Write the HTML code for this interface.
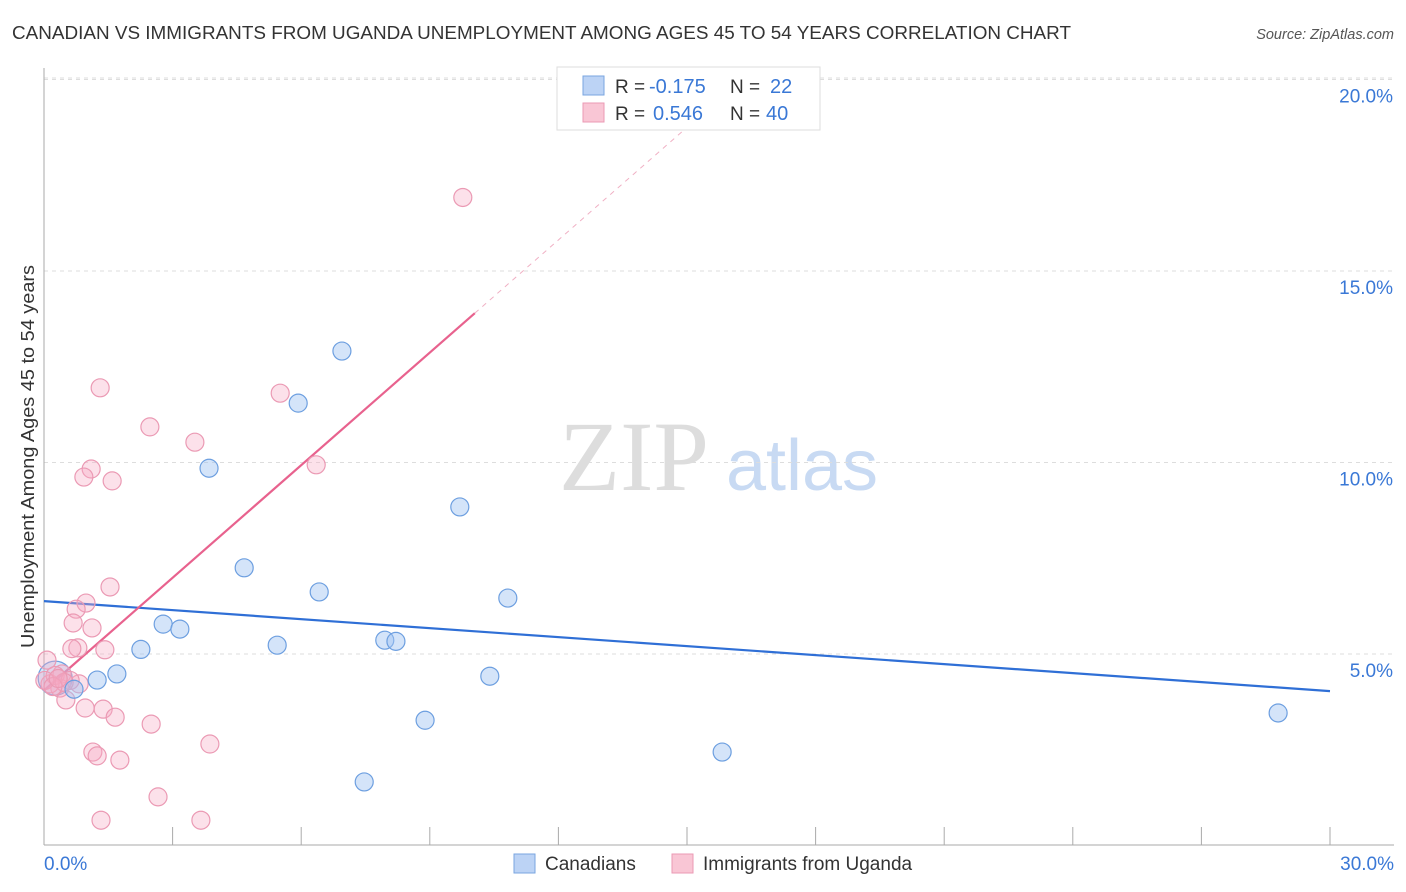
<!DOCTYPE html>
<html><head><meta charset="utf-8"><style>
body{margin:0;background:#fff;font-family:"Liberation Sans",sans-serif;}
svg{display:block}
</style></head><body>
<svg width="1406" height="892" id="c">
<text x="12" y="39" font-size="18" fill="#333" textLength="1059" lengthAdjust="spacingAndGlyphs">CANADIAN VS IMMIGRANTS FROM UGANDA UNEMPLOYMENT AMONG AGES 45 TO 54 YEARS CORRELATION CHART</text>
<text x="1394" y="39" font-size="14.5" fill="#555" font-style="italic" text-anchor="end">Source: ZipAtlas.com</text>
<text transform="translate(34,648) rotate(-90)" font-size="18" fill="#333" textLength="383" lengthAdjust="spacingAndGlyphs">Unemployment Among Ages 45 to 54 years</text>
<g>
<text x="634" y="490" font-size="100" font-family="Liberation Serif,serif" fill="#ddd" text-anchor="middle">ZIP</text>
<text x="802" y="490" font-size="72" fill="#c8daf3" text-anchor="middle">atlas</text>
</g>
<g id="grid"></g><g id="axes"></g><g id="trend"></g><g id="pts"></g>
<g>
<rect x="557" y="67" width="263" height="63" fill="#fff" stroke="#ddd"/>
<rect x="583" y="76" width="21" height="19" fill="#bcd3f5" stroke="#7aa6e0"/>
<rect x="583" y="103" width="21" height="19" fill="#f9c6d5" stroke="#eb9ab4"/>
<text x="615" y="93" font-size="19" fill="#333">R =</text><text x="649" y="93" font-size="20" fill="#3a78d6">-0.175</text>
<text x="730" y="93" font-size="19" fill="#333">N =</text><text x="770" y="93" font-size="20" fill="#3a78d6">22</text>
<text x="615" y="120" font-size="19" fill="#333">R =</text><text x="653" y="120" font-size="20" fill="#3a78d6">0.546</text>
<text x="730" y="120" font-size="19" fill="#333">N =</text><text x="766" y="120" font-size="20" fill="#3a78d6">40</text>
</g>
<g>
<rect x="514" y="854" width="21" height="19" fill="#bcd3f5" stroke="#7aa6e0"/>
<text x="545" y="870" font-size="19" fill="#333">Canadians</text>
<rect x="672" y="854" width="21" height="19" fill="#f9c6d5" stroke="#eb9ab4"/>
<text x="703" y="870" font-size="19" fill="#333">Immigrants from Uganda</text>
</g>
</svg>
<script>
const blueX=[6.95,5.93,3.85,9.70,4.67,6.42,10.82,2.78,3.17,2.26,5.44,7.95,8.21,10.40,1.70,1.24,0.70,8.89,15.82,7.47,28.79,0.26];
const blueY=[12.91,11.55,9.85,8.84,7.25,6.62,6.46,5.78,5.65,5.12,5.23,5.36,5.33,4.42,4.48,4.32,4.08,3.27,2.44,1.66,3.46,4.37];
const blueSize=[1,1,1,1,1,1,1,1,1,1,1,1,1,1,1,1,1,1,1,1,1,2];
const pinkX=[9.77,1.31,5.51,2.47,3.52,6.35,1.10,0.93,1.59,1.54,0.98,0.75,0.68,1.12,0.79,0.65,1.42,0.07,0.42,0.82,0.37,0.14,0.51,0.96,1.38,1.66,2.50,3.87,1.14,1.24,1.77,2.66,1.33,3.66,0.26,0.02,0.61,0.47,0.21,0.33];
const pinkY=[16.92,11.95,11.81,10.93,10.53,9.94,9.83,9.62,9.52,6.75,6.33,6.17,5.81,5.68,5.16,5.14,5.11,4.84,4.48,4.22,4.11,4.22,3.80,3.59,3.56,3.35,3.17,2.65,2.44,2.34,2.23,1.27,0.66,0.66,4.44,4.31,4.31,4.26,4.15,4.36];
const blueTrend=[6.38,-0.0783];
const pinkTrend=[4.05,0.98];
const yTicks=[5,10,15,20];
const yTickLabels=["5.0%","10.0%","15.0%","20.0%"];
const xTicks=[0,3,6,9,12,15,18,21,24,27,30];
const xTickLabels=["0.0%","30.0%"];
const NS="http://www.w3.org/2000/svg";
const X=v=>44+v/30*1286, Y=v=>845.5-v*38.3;
function mk(t,a,p){const e=document.createElementNS(NS,t);for(const k in a)e.setAttribute(k,a[k]);document.getElementById(p).appendChild(e);return e;}
let g;
g=mk('line',{x1:44,x2:1394,y1:78,y2:78,stroke:'#ddd','stroke-dasharray':'4,4'},'grid');


yTicks.forEach((t,i)=>{
 g=mk('line',{x1:44,x2:1394,y1:Y(t),y2:Y(t),stroke:'#ddd','stroke-dasharray':'4,4'},'grid');
 
 
 g=mk('text',{x:1393,y:Y(t)+23,'font-size':19,fill:'#3a78d6','text-anchor':'end'},'axes');g.textContent=yTickLabels[i];
 
 
});
g=mk('line',{x1:44,x2:44,y1:68,y2:845,stroke:'#aaa'},'axes');


g=mk('line',{x1:44,x2:1394,y1:845,y2:845,stroke:'#aaa'},'axes');


xTicks.forEach(t=>{
 g=mk('line',{x1:X(t),x2:X(t),y1:827,y2:845,stroke:'#aaa'},'axes');
 
 
});
g=mk('text',{x:44,y:870,'font-size':19,fill:'#3a78d6'},'axes');g.textContent=xTickLabels[0];


g=mk('text',{x:1394,y:870,'font-size':19,fill:'#3a78d6','text-anchor':'end'},'axes');g.textContent=xTickLabels[1];


g=mk('line',{x1:X(0),y1:Y(blueTrend[0]),x2:X(30),y2:Y(blueTrend[0]+30*blueTrend[1]),stroke:'#2f6fd6','stroke-width':2.2},'trend');


const pe=10.05, pd=15.5;
g=mk('line',{x1:X(0),y1:Y(pinkTrend[0]),x2:X(pe),y2:Y(pinkTrend[0]+pe*pinkTrend[1]),stroke:'#e8628e','stroke-width':2.2},'trend');


g=mk('line',{x1:X(pe),y1:Y(pinkTrend[0]+pe*pinkTrend[1]),x2:X(pd),y2:Y(pinkTrend[0]+pd*pinkTrend[1]),stroke:'#f0b0c4','stroke-width':1,'stroke-dasharray':'5,5'},'trend');


blueX.forEach((v,i)=>{
 if(blueSize[i]<2)return;
 g=mk('circle',{cx:X(v),cy:Y(blueY[i]),r:17,fill:'rgba(160,196,242,0.4)',stroke:'#6d9fe0','stroke-width':1.2},'pts');
 
 
});
pinkX.forEach((v,i)=>{
 g=mk('circle',{cx:X(v),cy:Y(pinkY[i]),r:9,fill:'rgba(246,170,196,0.35)',stroke:'#eb9ab4','stroke-width':1.2},'pts');
 
 
});
blueX.forEach((v,i)=>{
 if(blueSize[i]>1)return;
 g=mk('circle',{cx:X(v),cy:Y(blueY[i]),r:9,fill:'rgba(160,196,242,0.45)',stroke:'#6d9fe0','stroke-width':1.2},'pts');
 
 
});
</script>
</body></html>
